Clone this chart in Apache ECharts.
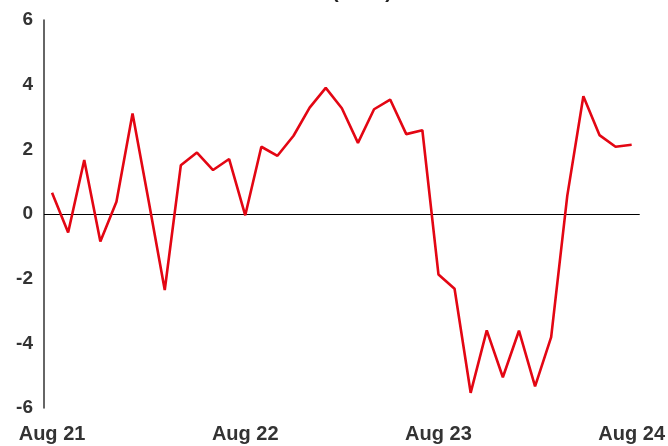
<!DOCTYPE html>
<html>
<head>
<meta charset="utf-8">
<script src="https://cdn.jsdelivr.net/npm/echarts@6/dist/echarts.min.js"></script>
<style>
  html, body { margin: 0; padding: 0; background: #fff; }
  #chart { width: 668px; height: 446px; }
</style>
</head>
<body>
<div id="chart"></div>
<script>
// monthly categories, Aug 21 .. Aug 24
const months = [
  'Aug 21', 'Sep 21', 'Oct 21', 'Nov 21', 'Dec 21', 'Jan 22', 'Feb 22', 'Mar 22', 'Apr 22', 'May 22', 'Jun 22', 'Jul 22',
  'Aug 22', 'Sep 22', 'Oct 22', 'Nov 22', 'Dec 22', 'Jan 23', 'Feb 23', 'Mar 23', 'Apr 23', 'May 23', 'Jun 23', 'Jul 23',
  'Aug 23', 'Sep 23', 'Oct 23', 'Nov 23', 'Dec 23', 'Jan 24', 'Feb 24', 'Mar 24', 'Apr 24', 'May 24', 'Jun 24', 'Jul 24',
  'Aug 24'
];

// values
const values = [
  0.66, -0.57, 1.67, -0.85, 0.38, 3.11, 0.4, -2.35, 1.51, 1.90, 1.36, 1.70,
  -0.04, 2.08, 1.80, 2.42, 3.29, 3.90, 3.27, 2.20, 3.24, 3.54, 2.47, 2.59,
  -1.87, -2.31, -5.53, -3.60, -5.05, -3.61, -5.33, -3.81, 0.56, 3.64, 2.44, 2.08,
  2.14
];

const yTicks = { min: -6, max: 6, step: 2 };
const titleText = '(% ch)';

const chart = echarts.init(document.getElementById('chart'), null, { renderer: 'canvas' });

chart.setOption({
  animation: false,
  backgroundColor: '#ffffff',
  grid: { left: 44, right: 28, top: 20, bottom: 38 },
  // title sits mostly above the visible area, only the bottom edge shows
  graphic: [{
    type: 'text',
    x: 362,
    y: 2,
    style: {
      text: titleText,
      font: 'bold 20px "Liberation Sans", Arial, sans-serif',
      fill: '#222',
      align: 'center',
      verticalAlign: 'bottom'
    }
  }],
  xAxis: {
    type: 'category',
    data: months,
    boundaryGap: true,
    axisLine: { show: false },
    axisTick: { show: false },
    axisLabel: {
      interval: 11,
      margin: 16,
      color: '#333',
      fontFamily: '"Liberation Sans", Arial, sans-serif',
      fontWeight: 'bold',
      fontSize: 20
    },
    splitLine: { show: false }
  },
  yAxis: {
    type: 'value',
    min: yTicks.min,
    max: yTicks.max,
    interval: yTicks.step,
    axisLine: { show: true, lineStyle: { color: '#333', width: 1.5 } },
    axisTick: { show: false },
    axisLabel: {
      margin: 11,
      color: '#333',
      fontFamily: '"Liberation Sans", Arial, sans-serif',
      fontWeight: 'bold',
      fontSize: 19
    },
    splitLine: { show: false }
  },
  series: [{
    type: 'line',
    data: values,
    symbol: 'none',
    lineStyle: { color: '#e30613', width: 2.6 },
    z: 3,
    markLine: {
      silent: true,
      symbol: 'none',
      label: { show: false },
      lineStyle: { color: '#000', width: 1.2, type: 'solid' },
      data: [{ yAxis: 0 }],
      z: 2
    }
  }]
});
</script>
</body>
</html>
